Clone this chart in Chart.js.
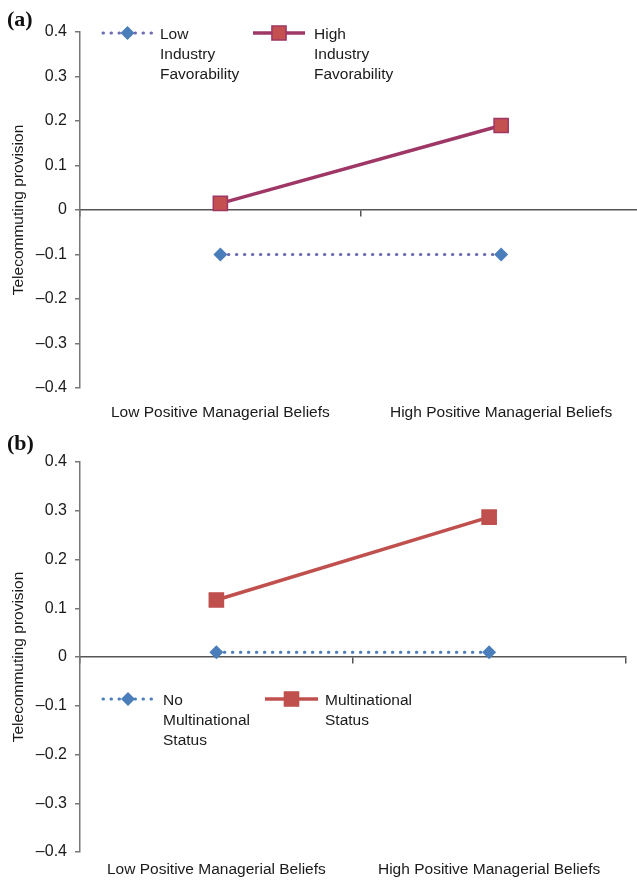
<!DOCTYPE html>
<html>
<head>
<meta charset="utf-8">
<title>Telecommuting provision: interaction plots</title>
<script src="https://cdn.jsdelivr.net/npm/chart.js@4.4.1/dist/chart.umd.min.js"></script>
<style>
  html, body { margin: 0; padding: 0; background: #fff; overflow: hidden; }
  #page { position: relative; width: 637px; height: 884px; overflow: hidden; background: #fff; }
  .box { position: absolute; left: 0; }
  .tag { position: absolute; left: 7px; font: bold 22px "Liberation Serif", "Times New Roman", serif; color: #111; line-height: 25px; }
</style>
</head>
<body>
<div id="page">
  <div class="box" style="top:0;width:653px;height:430px">
    <canvas id="chartA" width="653" height="430" style="width:653px;height:430px"></canvas>
  </div>
  <div class="box" style="top:430px;width:637px;height:454px">
    <canvas id="chartB" width="637" height="454" style="width:637px;height:454px"></canvas>
  </div>
  <div class="tag" style="top:6px">(a)</div>
  <div class="tag" style="top:430px">(b)</div>
</div>
<script>
// ---- data ----
const categories = ["Low Positive Managerial Beliefs", "High Positive Managerial Beliefs"];
const yTickValues = [-0.4, -0.3, -0.2, -0.1, 0, 0.1, 0.2, 0.3, 0.4];
const yTitle = "Telecommuting provision";

// panel (a): industry favorability
const lowIndustryFavorability = [-0.10, -0.10];
const highIndustryFavorability = [0.015, 0.19];
const legendLinesLowIndustry = ["Low", "Industry", "Favorability"];
const legendLinesHighIndustry = ["High", "Industry", "Favorability"];

// panel (b): multinational status
const noMultinationalStatus = [0.01, 0.01];
const multinationalStatus = [0.117, 0.287];
const legendLinesNoMultinational = ["No", "Multinational", "Status"];
const legendLinesMultinational = ["Multinational", "Status"];

// ---- drawing ----
const FONT = '"Liberation Sans", Arial, Helvetica, sans-serif';
const TEXT = '#1a1a1a';
Chart.defaults.font.family = FONT;

function fmtTick(v) {
  const r = Math.round(v * 10) / 10;
  if (r === 0) return '0';
  return (r < 0 ? '\u2013' : '') + Math.abs(r).toFixed(1);
}

function drawMarker(ctx, style, r, x, y) {
  ctx.beginPath();
  if (style === 'rectRot') {
    ctx.moveTo(x, y - r); ctx.lineTo(x + r, y); ctx.lineTo(x, y + r); ctx.lineTo(x - r, y);
  } else {
    const h = Math.SQRT1_2 * r;
    ctx.rect(x - h, y - h, 2 * h, 2 * h);
  }
  ctx.closePath();
}

// Legend with a line sample, a centred marker and multi-line text
const lineLegend = {
  id: 'lineLegend',
  afterDatasetsDraw(chart, args, opts) {
    const ctx = chart.ctx;
    chart.data.datasets.forEach((ds, i) => {
      const it = opts.items[i];
      if (!it) return;
      ctx.save();
      ctx.strokeStyle = ds.borderColor;
      ctx.lineWidth = ds.borderWidth;
      ctx.lineCap = ds.borderCapStyle || 'butt';
      ctx.setLineDash(ds.borderDash || []);
      ctx.beginPath();
      ctx.moveTo(it.x0, it.y);
      ctx.lineTo(it.x1, it.y);
      ctx.stroke();
      ctx.setLineDash([]);
      ctx.lineCap = 'butt';
      drawMarker(ctx, ds.pointStyle, ds.pointRadius, (it.x0 + it.x1) / 2, it.y);
      ctx.fillStyle = ds.pointBackgroundColor;
      ctx.fill();
      if (ds.pointBorderWidth > 0) {
        ctx.strokeStyle = ds.pointBorderColor;
        ctx.lineWidth = ds.pointBorderWidth;
        ctx.stroke();
      }
      ctx.fillStyle = TEXT;
      ctx.font = opts.font;
      ctx.textBaseline = 'middle';
      ctx.textAlign = 'left';
      ds.legendLines.forEach((t, k) => ctx.fillText(t, it.tx, it.y + opts.textDy + k * opts.lineGap));
      ctx.restore();
    });
  }
};

function dottedSeries(label, lines, values, lineColor, markerColor) {
  return {
    label: label, legendLines: lines, data: values, xAxisID: 'x', yAxisID: 'y',
    borderColor: lineColor, borderWidth: 3, borderDash: [0.5, 7.5], borderCapStyle: 'round',
    pointStyle: 'rectRot', pointRadius: 7, pointHoverRadius: 7,
    pointBackgroundColor: markerColor, pointBorderColor: markerColor, pointBorderWidth: 0,
    fill: false, tension: 0, clip: false
  };
}

function solidSeries(label, lines, values, lineColor, fillColor, edgeColor) {
  return {
    label: label, legendLines: lines, data: values, xAxisID: 'x', yAxisID: 'y',
    borderColor: lineColor, borderWidth: 3.5,
    pointStyle: 'rect', pointRadius: 10, pointHoverRadius: 10,
    pointBackgroundColor: fillColor, pointBorderColor: edgeColor, pointBorderWidth: 1.5,
    fill: false, tension: 0, clip: false
  };
}

function makePanel(canvasId, datasets, cfg) {
  return new Chart(document.getElementById(canvasId), {
    type: 'line',
    data: { labels: categories, datasets: datasets },
    plugins: [lineLegend],
    options: {
      responsive: false,
      animation: false,
      devicePixelRatio: 1,
      layout: { padding: { top: 32, right: cfg.rightPad, bottom: 0, left: 0 } },
      plugins: {
        legend: { display: false },
        tooltip: { enabled: false },
        lineLegend: { items: cfg.legendItems, lineGap: 20, textDy: 1.5, font: '15.5px ' + FONT }
      },
      scales: {
        x: {
          type: 'category', offset: true, position: 'bottom',
          afterFit: s => { s.height = cfg.xAxisHeight; },
          border: { display: false },
          grid: { display: false, drawTicks: false },
          ticks: { padding: cfg.labelPad, color: TEXT, font: { size: 15.5 }, maxRotation: 0, autoSkip: false }
        },
        x2: {
          type: 'category', offset: true, position: { y: 0 },
          border: { display: true, color: '#555', width: 1.5 },
          grid: { offset: true, drawOnChartArea: false, drawTicks: true, tickLength: 6, color: '#555', lineWidth: 1.5 },
          ticks: { display: false }
        },
        y: {
          type: 'linear', min: -0.4, max: 0.4,
          afterBuildTicks: s => { s.ticks = yTickValues.map(v => ({ value: v })); },
          afterFit: s => { s.width = 80; },
          border: { display: true, color: '#777', width: 1.5 },
          grid: { drawOnChartArea: false, drawTicks: true, tickLength: 5, color: '#777', lineWidth: 1.5 },
          ticks: { padding: 8, color: TEXT, font: { size: 16 }, callback: v => fmtTick(v) },
          title: { display: true, text: yTitle, color: TEXT, font: { size: 15.5 }, padding: { top: 9, bottom: 0 } }
        }
      }
    }
  });
}

makePanel('chartA', [
  dottedSeries(legendLinesLowIndustry.join(' '), legendLinesLowIndustry, lowIndustryFavorability, '#6e6db3', '#4a7ebb'),
  solidSeries(legendLinesHighIndustry.join(' '), legendLinesHighIndustry, highIndustryFavorability, '#9e3766', '#c4504f', '#9e3766')
], {
  rightPad: 0, xAxisHeight: 42, labelPad: 15,
  legendItems: [
    { x0: 103, x1: 152, y: 33, tx: 160 },
    { x0: 253, x1: 305, y: 33, tx: 314 }
  ]
});

makePanel('chartB', [
  dottedSeries(legendLinesNoMultinational.join(' '), legendLinesNoMultinational, noMultinationalStatus, '#4a7ebb', '#4a7ebb'),
  solidSeries(legendLinesMultinational.join(' '), legendLinesMultinational, multinationalStatus, '#c0504d', '#c0504d', '#c0504d')
], {
  rightPad: 11, xAxisHeight: 32, labelPad: 8,
  legendItems: [
    { x0: 103, x1: 153, y: 269, tx: 163 },
    { x0: 265, x1: 318, y: 269, tx: 325 }
  ]
});
</script>
</body>
</html>
